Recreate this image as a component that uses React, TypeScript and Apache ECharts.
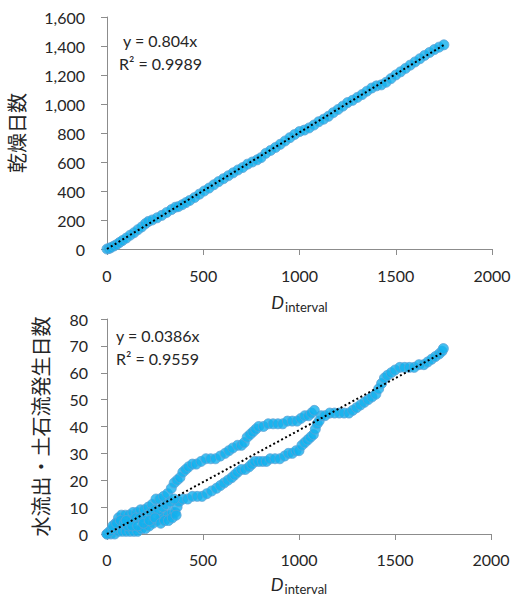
import React, { useEffect, useRef } from "react";
import * as echarts from "echarts";

// Top panel: D_interval vs 乾燥日数
const topX = [0,10,20,35,50,65,80,100,120,140,160,180,200,215,235,260,285,310,335,355,370,390,410,430,455,480,505,530,555,580,605,630,655,680,705,730,755,780,800,825,850,875,900,925,950,975,1000,1025,1050,1075,1100,1125,1150,1175,1200,1225,1250,1275,1300,1325,1350,1375,1400,1425,1450,1475,1500,1525,1550,1575,1600,1625,1650,1675,1700,1725,1750];
const topY = [0,3,10,20,30,45,58,75,95,112,133,152,175,190,200,215,232,252,272,288,292,305,320,335,355,378,400,420,443,465,485,505,525,545,562,585,600,615,630,660,680,700,722,745,768,790,810,820,835,855,878,895,915,940,962,985,1010,1025,1045,1065,1088,1110,1125,1132,1150,1175,1200,1222,1245,1268,1290,1312,1335,1355,1375,1392,1408];

// Bottom panel: D_interval vs 水流出・土石流発生日数
const upperX = [0,15,30,45,60,75,95,115,135,155,175,195,215,235,255,275,295,315,335,350,365,380,395,410,425,445,465,490,515,540,565,590,615,635,655,680,700,715,730,745,760,775,790,815,840,865,890,915,940,965,990,1010,1030,1050,1065,1080];
const upperY = [0,1,2,4,6,7,7,7,8,8,9,9,10,11,13,13,14,15,17,19,20,21,23,24,25,26,26,27,28,28,28,29,30,31,32,33,33,34,36,37,38,39,40,40,41,41,41,41,42,42,42,43,44,44,45,46];
const lowerX = [0,20,40,60,80,100,120,140,160,180,200,220,240,260,280,300,320,340,355,365,375,395,420,445,470,495,520,545,570,590,610,630,650,665,680,700,720,740,755,770,790,810,830,850,875,900,925,945,965,985,1000,1015,1030,1045,1060,1075,1085,1095,1105,1115,1135,1160,1185,1210,1235,1260,1280,1300,1320,1340,1360,1380,1400,1415,1430,1445,1460,1480,1500,1525,1550,1575,1600,1625,1650,1670,1690,1710,1730,1745,1752];
const lowerY = [0,0,0,1,1,1,1,1,1,2,2,3,4,5,6,7,7,8,8,10,12,13,13,14,14,14,15,16,17,18,19,20,21,22,23,24,24,25,26,27,27,27,27,28,28,28,29,30,30,31,31,33,34,35,36,37,39,41,42,44,44,45,45,45,45,45,46,47,48,49,50,51,52,54,56,58,59,60,61,62,62,62,62,63,63,64,65,66,67,68,69];
const cloudX = [30,50,70,90,110,130,150,170,190,210,230,250,270,290,310,330,350,100,130,160,190,220,250,280,300,320,340,360];
const cloudY = [3,4,5,4,3,5,6,6,5,7,8,9,9,10,11,12,13,5,3,3,4,5,6,4,5,5,6,7];

const topSlope = 0.804;
const botSlope = 0.0386;
const topEq = ["y = 0.804x", "R² = 0.9989"];
const botEq = ["y = 0.0386x", "R² = 0.9559"];
const xTicks = { min: 0, max: 2000, interval: 500 };
const topYTicks = { min: 0, max: 1600, interval: 200 };
const botYTicks = { min: 0, max: 80, interval: 10 };

const zip = (xs: number[], ys: number[]) => xs.map((x, i) => [x, ys[i]]);

export default function App() {
  const ref = useRef<HTMLDivElement>(null);
  useEffect(() => {
    const chart = echarts.init(ref.current!, null, { renderer: "svg" });
    const font = "Lato, 'Noto Sans', sans-serif";
    const cjk = "'Noto Sans CJK JP', sans-serif";
    const axisColor = "#8c8c8c";
    const textColor = "#262626";
    const topData = zip(topX, topY);
    const botData = [...zip(lowerX, lowerY), ...zip(upperX, upperY), ...zip(cloudX, cloudY)];
    const topMax = Math.max(...topX);
    const botMax = Math.max(...lowerX, ...upperX);
    const nameRich = {
      d: { fontStyle: "italic", fontSize: 18, fontFamily: font, color: textColor, verticalAlign: "top", lineHeight: 20 },
      s: { fontSize: 13, fontFamily: font, color: textColor, verticalAlign: "bottom", lineHeight: 20, padding: [0, 0, 0, 1] },
    };
    const xAxisBase = (gridIndex: number, labelMargin: number, nameGap: number) => ({
      type: "value",
      gridIndex,
      ...xTicks,
      splitLine: { show: false },
      axisLine: { show: true, lineStyle: { color: axisColor, width: 1 } },
      axisTick: { show: true, length: 6, lineStyle: { color: axisColor } },
      axisLabel: { fontSize: 16, fontFamily: font, color: textColor, margin: labelMargin, formatter: (v: number) => String(v) },
      name: "{d|D}{s|interval}",
      nameLocation: "middle",
      nameGap,
      nameTextStyle: { rich: nameRich },
    });
    const yAxisBase = (gridIndex: number, ticks: any, name: string, nameGap: number, labelMargin: number, fmt?: any) => ({
      type: "value",
      gridIndex,
      ...ticks,
      splitLine: { show: false },
      axisLine: { show: true, lineStyle: { color: axisColor, width: 1 } },
      axisTick: { show: true, length: 6, lineStyle: { color: axisColor } },
      axisLabel: { fontSize: 16, fontFamily: font, color: textColor, margin: labelMargin, formatter: fmt || ((v: number) => String(v)) },
      name,
      nameLocation: "middle",
      nameGap,
      nameTextStyle: { fontSize: 20, fontFamily: cjk, color: textColor },
    });
    const scatterStyle = {
      color: "#12B0EE",
      borderColor: "#5FA3D6",
      borderWidth: 1,
    };
    const trendStyle = { color: "#000", width: 2, type: [2, 2.5] };
    chart.setOption({
      animation: false,
      grid: [
        { left: 107, right: 22, top: 17, height: 232, outerBoundsMode: "none", containLabel: false },
        { left: 107, right: 23, top: 319, height: 215, outerBoundsMode: "none", containLabel: false },
      ],
      xAxis: [xAxisBase(0, 18, 44), xAxisBase(1, 17, 41)],
      yAxis: [
        yAxisBase(0, topYTicks, "乾燥日数", 81, 22, (v: number) => v.toLocaleString("en-US")),
        yAxisBase(1, botYTicks, "水流出・土石流発生日数", 57, 19),
      ],
      series: [
        { type: "scatter", xAxisIndex: 0, yAxisIndex: 0, data: topData, symbolSize: 10, itemStyle: scatterStyle },
        { type: "line", xAxisIndex: 0, yAxisIndex: 0, data: [[0, 0], [topMax, topSlope * topMax]], showSymbol: false, symbol: "none", lineStyle: trendStyle, z: 5 },
        { type: "scatter", xAxisIndex: 1, yAxisIndex: 1, data: botData, symbolSize: 10, itemStyle: scatterStyle },
        { type: "line", xAxisIndex: 1, yAxisIndex: 1, data: [[0, 0], [botMax, botSlope * botMax]], showSymbol: false, symbol: "none", lineStyle: trendStyle, z: 5 },
      ],
      graphic: [
        { type: "text", left: 123, top: 32, style: { text: topEq[0], fontSize: 16, fontFamily: font, fill: textColor } },
        { type: "text", left: 119, top: 55, style: { text: topEq[1], fontSize: 16, fontFamily: font, fill: textColor } },
        { type: "text", left: 116, top: 327, style: { text: botEq[0], fontSize: 16, fontFamily: font, fill: textColor } },
        { type: "text", left: 116, top: 350, style: { text: botEq[1], fontSize: 16, fontFamily: font, fill: textColor } },
      ],
    });
    return () => chart.dispose();
  }, []);
  return <div ref={ref} style={{ position: "absolute", left: 0, top: 0, width: 514, height: 595, background: "#fff" }} />;
}
